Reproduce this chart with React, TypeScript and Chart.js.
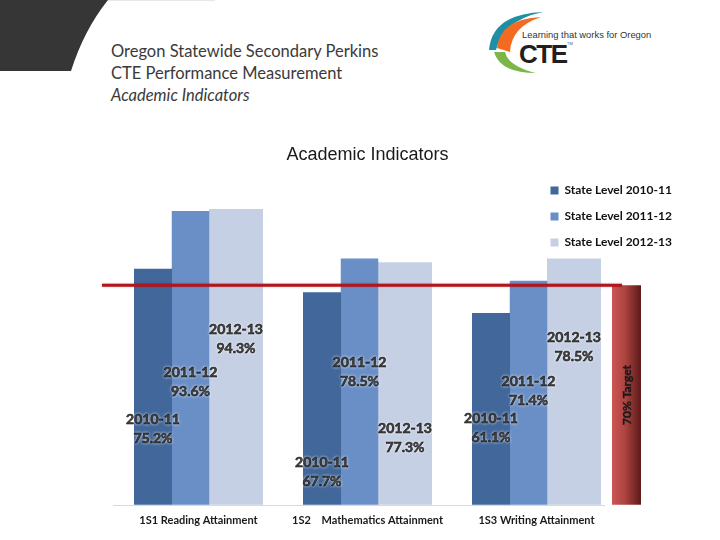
import React, { useEffect, useRef } from "react";
import { Chart, registerables } from "chart.js";

Chart.register(...registerables);

// ---------- data ----------
const CATEGORIES = ["1S1 Reading Attainment", "1S2    Mathematics Attainment", "1S3 Writing Attainment"];
const SERIES_NAMES = ["State Level 2010-11", "State Level 2011-12", "State Level 2012-13"];
const YEARS = ["2010-11", "2011-12", "2012-13"];
const VALUES_2010_11 = [75.2, 67.7, 61.1];
const VALUES_2011_12 = [93.6, 78.5, 71.4];
const VALUES_2012_13 = [94.3, 77.3, 78.5];
const TARGET = 70;
const TARGET_LABEL = "70% Target";

// where each callout box sits on the value axis (layout, not data)
const CALLOUT_AT_2010_11 = [24.2, 10.5, 24.5];
const CALLOUT_AT_2011_12 = [39.1, 42.4, 36.2];
const CALLOUT_AT_2012_13 = [52.8, 21.2, 50.3];

const SERIES_VALUES = [VALUES_2010_11, VALUES_2011_12, VALUES_2012_13];
const CALLOUT_AT = [CALLOUT_AT_2010_11, CALLOUT_AT_2011_12, CALLOUT_AT_2012_13];
const COLORS = ["#41679b", "#6a8fc6", "#c6d0e4"];

// bar geometry inside one category slot: centre offset and width, in slot units
const slot = (k: number, centre: number, width: number) => {
  const chunk = centre / (k - 1.5);
  return { categoryPercentage: chunk * 4, barPercentage: width / chunk };
};
const GEOMETRY = [
  slot(0, -0.2692, 0.2249),
  slot(1, -0.0473, 0.2219),
  slot(2, 0.2219, 0.3195),
  slot(3, 0.5325, 0.1716),
];

const FONT = "Lato, 'Open Sans', sans-serif";
const LEGEND_FONT = { family: FONT, size: 12, weight: "bold" };
const LEGEND_BOX = 8;
const LEGEND_PAD = 14;
const PLOT_LEFT = 198.5;
const PLOT_RIGHT = 536.5;

const decorPlugin = {
  id: "decor",
  beforeDatasetsDraw(chart: any) {
    const ctx = chart.ctx;
    const y = chart.scales.y;
    const first = chart.getDatasetMeta(0).data[0];
    const last = chart.getDatasetMeta(2).data[2];
    if (!first || !last) return;
    const y0 = Math.round(y.getPixelForValue(0)) + 0.5;
    ctx.save();
    ctx.strokeStyle = "#d9d9d9";
    ctx.lineWidth = 1;
    ctx.beginPath();
    ctx.moveTo(first.x - first.width / 2 - 21, y0);
    ctx.lineTo(last.x + last.width / 2 + 4, y0);
    ctx.stroke();
    ctx.restore();
  },
  afterDatasetsDraw(chart: any) {
    const ctx = chart.ctx;
    const y = chart.scales.y;
    const first = chart.getDatasetMeta(0).data[0];
    const tgt = chart.getDatasetMeta(3).data[2];
    if (!first || !tgt) return;
    // target line
    const ty = y.getPixelForValue(TARGET);
    ctx.save();
    ctx.strokeStyle = "#b3151d";
    ctx.lineWidth = 3;
    ctx.shadowColor = "rgba(120,0,0,0.35)";
    ctx.shadowBlur = 2;
    ctx.beginPath();
    ctx.moveTo(first.x - first.width / 2 - 32, ty);
    ctx.lineTo(tgt.x - tgt.width / 2 + 10, ty);
    ctx.stroke();
    ctx.restore();

    // target bar label
    ctx.save();
    ctx.translate(tgt.x + 1, (tgt.y + tgt.base) / 2);
    ctx.rotate(-Math.PI / 2);
    ctx.font = `bold 12px ${FONT}`;
    ctx.fillStyle = "#1a1a1a";
    ctx.strokeStyle = "#1a1a1a";
    ctx.lineWidth = 0.4;
    ctx.textAlign = "center";
    ctx.textBaseline = "middle";
    ctx.fillText(TARGET_LABEL, 0, 0);
    ctx.strokeText(TARGET_LABEL, 0, 0);
    ctx.restore();

    // callouts
    ctx.save();
    ctx.font = `bold 14px ${FONT}`;
    ctx.fillStyle = "#111";
    ctx.strokeStyle = "#111";
    ctx.lineWidth = 0.5;
    ctx.textAlign = "center";
    ctx.textBaseline = "middle";
    ctx.shadowColor = "rgba(255,255,255,0.8)";
    ctx.shadowBlur = 3;
    for (let s = 0; s < 3; s++) {
      const meta = chart.getDatasetMeta(s);
      SERIES_VALUES[s].forEach((v, i) => {
        const el = meta.data[i];
        if (!el) return;
        const cy = y.getPixelForValue(CALLOUT_AT[s][i]);
        const lines = [YEARS[s], `${v.toFixed(1)}%`];
        lines.forEach((t, j) => {
          const ly = cy + (j === 0 ? -9.5 : 9.5);
          ctx.fillText(t, el.x, ly);
          ctx.strokeText(t, el.x, ly);
        });
      });
    }
    ctx.restore();
  },
};

export default function App() {
  const ref = useRef<HTMLCanvasElement | null>(null);

  useEffect(() => {
    if (!ref.current) return;
    // the legend sits right of the plot; size the right padding from its text width
    const m = document.createElement("canvas").getContext("2d")!;
    m.font = `bold ${LEGEND_FONT.size}px ${FONT}`;
    const textW = Math.max(...SERIES_NAMES.map((n) => m.measureText(n).width));
    const legendW = LEGEND_PAD + LEGEND_BOX + LEGEND_FONT.size / 2 + textW + 10;
    const padRight = Math.max(0, 720 - PLOT_RIGHT - legendW);

    const datasets: any[] = SERIES_VALUES.map((vals, s) => ({
      label: SERIES_NAMES[s],
      data: vals,
      backgroundColor: COLORS[s],
      borderWidth: 0,
      clip: false,
      ...GEOMETRY[s],
    }));
    datasets.push({
      label: TARGET_LABEL,
      data: [null, null, TARGET],
      borderWidth: 0,
      clip: false,
      ...GEOMETRY[3],
      backgroundColor: (c: any) => {
        const el = c.element;
        if (!el || typeof el.x !== "number" || !el.width || isNaN(el.x)) return "#a8403d";
        const g = c.chart.ctx.createLinearGradient(el.x - el.width / 2, 0, el.x + el.width / 2, 0);
        g.addColorStop(0, "#cb5653");
        g.addColorStop(0.45, "#ad4340");
        g.addColorStop(1, "#5a1a19");
        return g;
      },
    });

    const chart = new Chart(ref.current, {
      type: "bar",
      data: { labels: CATEGORIES, datasets },
      options: {
        responsive: false,
        maintainAspectRatio: false,
        animation: false,
        layout: { padding: { left: PLOT_LEFT, right: padRight, top: 134, bottom: 4 } },
        scales: {
          x: {
            offset: false,
            grid: { display: false, drawTicks: false, offset: false },
            border: { display: false },
            ticks: {
              autoSkip: false,
              maxRotation: 0,
              minRotation: 0,
              padding: 9,
              color: "#1a1a1a",
              font: { family: FONT, size: 11, weight: "bold" },
            },
          },
          y: { display: false, min: 0, max: 106.5 },
        },
        plugins: {
          title: {
            display: true,
            text: "Academic Indicators",
            fullSize: false,
            color: "#1a1a1a",
            font: { family: "'Liberation Sans', Arial, sans-serif", size: 18, weight: "normal" },
            padding: { top: 10, bottom: 5 },
          },
          legend: {
            display: true,
            position: "right",
            align: "start",
            fullSize: false,
            labels: {
              boxWidth: LEGEND_BOX,
              boxHeight: LEGEND_BOX,
              padding: LEGEND_PAD,
              color: "#111",
              font: LEGEND_FONT,
              filter: (item: any) => item.datasetIndex < 3,
            },
          },
          tooltip: { enabled: false },
        },
      },
      plugins: [decorPlugin],
    } as any);
    chart.update();
    return () => chart.destroy();
  }, []);

  return (
    <div style={{ position: "absolute", left: 0, top: 0, width: 720, height: 540, background: "#fff", overflow: "hidden" }}>
      <svg style={{ position: "absolute", left: 0, top: 0 }} width={720} height={80}>
        <path d="M0 0 L108 0 Q84 30 71 71 L0 71 Z" fill="#363636" />
        <line x1="108" y1="0.5" x2="215" y2="0.5" stroke="#e8e8e8" strokeWidth="1" />
        <path d="M489 50 Q492 14 543 12 Q503 20 496 50 Z" fill="#1f8fa6" />
        <path d="M497 48 Q500 19 541 17 Q511 27 510 52 Z" fill="#f26b21" />
        <path d="M494 52 Q500 73 536 73 Q508 66 505 52 Z" fill="#7ab648" />
        <text x="522" y="38" fontFamily="'Liberation Sans', Arial, sans-serif" fontSize="9.4" fill="#333">
          Learning that works for Oregon
        </text>
        <text x="519" y="63" fontFamily="'Liberation Sans', Arial, sans-serif" fontSize="26" fontWeight="bold" letterSpacing="-1.5" fill="#231f20">
          CTE
        </text>
        <text x="567" y="45" fontFamily="'Liberation Sans', Arial, sans-serif" fontSize="4" fill="#555">
          TM
        </text>
      </svg>
      <div
        style={{
          position: "absolute",
          left: 111,
          top: 40,
          fontFamily: FONT,
          fontSize: 16.5,
          lineHeight: "22px",
          color: "#3a3a3a",
          whiteSpace: "nowrap",
        }}
      >
        <div>Oregon Statewide Secondary Perkins</div>
        <div>CTE Performance Measurement</div>
        <div style={{ fontStyle: "italic" }}>Academic Indicators</div>
      </div>
      <canvas ref={ref} width={720} height={540} style={{ position: "absolute", left: 0, top: 0 }} />
    </div>
  );
}
